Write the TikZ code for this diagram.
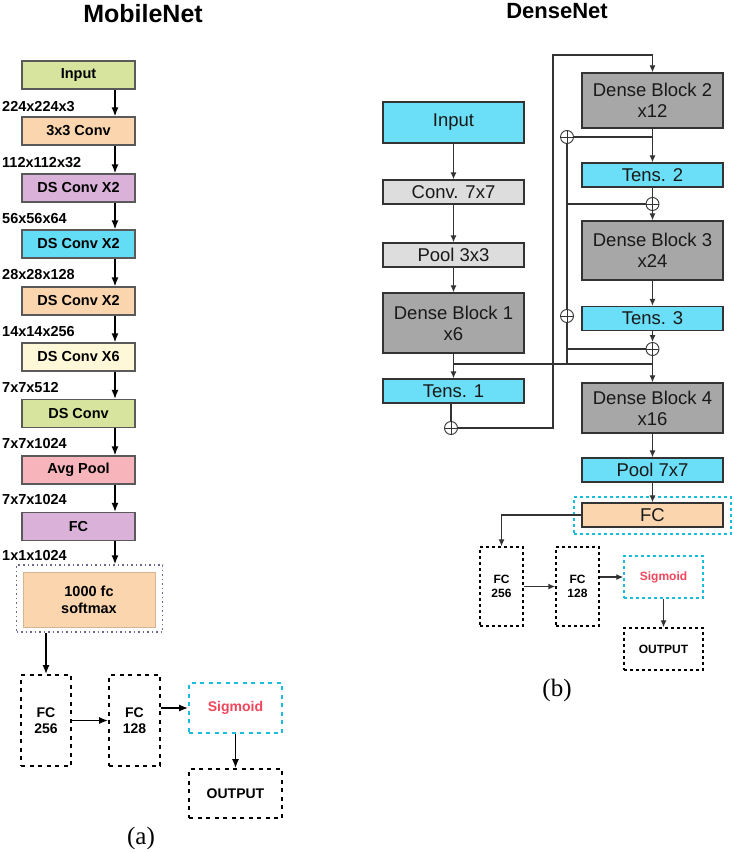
\documentclass[tikz,border=0pt]{standalone}
\usepackage{fontspec}
\setmainfont{Liberation Sans}
\newfontfamily\capfont{Liberation Serif}
\usepackage{xcolor}
\usetikzlibrary{positioning, arrows.meta}
\definecolor{mgreen}{HTML}{D6E49E}
\definecolor{morange}{HTML}{FBD5AE}
\definecolor{mpurple}{HTML}{DAB1D8}
\definecolor{mcyan}{HTML}{63DCF5}
\definecolor{mcream}{HTML}{FFF8D8}
\definecolor{mpink}{HTML}{F7B4BA}
\definecolor{mborder}{HTML}{5A5A5A}
\definecolor{mdots}{HTML}{6A6A8E}
\definecolor{dgray}{HTML}{A7A7A7}
\definecolor{lgray}{HTML}{DDDDDD}
\definecolor{dcyan}{HTML}{6ADFF7}
\definecolor{dline}{HTML}{333333}
\definecolor{sigred}{HTML}{F0455A}
\definecolor{cyanline}{HTML}{19BCDC}

\begin{document}
\begin{tikzpicture}[x=1pt, y=-1pt,
	mbox/.style={rectangle, draw=mborder, line width=1.2pt, minimum width=113pt, minimum height=28pt, inner sep=0pt, align=center, font=\bfseries\fontsize{14.5}{17}\selectfont},
	mdash/.style={rectangle, draw=black, line width=1.8pt, dash pattern=on 4pt off 4.5pt, inner sep=0pt, align=center, font=\bfseries\fontsize{14}{16}\selectfont},
	dimlbl/.style={anchor=west, inner sep=0pt, font=\bfseries\fontsize{14.5}{17}\selectfont},
	marrow/.style={-{Latex[length=9pt, width=7pt]}, line width=1.5pt},
	dbox/.style={rectangle, draw=dline, line width=1.3pt, minimum width=141pt, inner sep=0pt, align=center, text=black!90, font=\fontsize{18.5}{21}\selectfont},
	ddash/.style={rectangle, draw=black, line width=1.4pt, dash pattern=on 3pt off 3pt, inner sep=0pt, align=center, font=\bfseries\fontsize{12}{14}\selectfont},
	darrow/.style={-{Latex[length=7pt, width=6pt]}, line width=1.2pt, draw=dline},
	dline/.style={line width=1.2pt, draw=dline},
	dplus/.style={circle, draw=dline, fill=white, line width=0.9pt, minimum size=13pt, inner sep=0pt,
		path picture={\draw[line width=0.8pt] (path picture bounding box.north) -- (path picture bounding box.south) (path picture bounding box.west) -- (path picture bounding box.east);}},
	]
	\useasboundingbox (0,0) rectangle (733,853);

	%Titles
	\node[font=\bfseries\fontsize{25}{28}\selectfont] (mTitle) at (143,14) {MobileNet};
	\node[font=\bfseries\fontsize{22}{25}\selectfont] (dTitle) at (557,11) {DenseNet};

	%MobileNet nodes
	\node[mbox, fill=mgreen]  (mInput) at (78.5,75)    {Input};
	\node[mbox, fill=morange] (mConv)  at (78.5,131)   {3x3 Conv};
	\node[mbox, fill=mpurple] (mDS1)   at (78.5,188)   {DS Conv X2};
	\node[mbox, fill=mcyan]   (mDS2)   at (78.5,244)   {DS Conv X2};
	\node[mbox, fill=morange] (mDS3)   at (78.5,301)   {DS Conv X2};
	\node[mbox, fill=mcream]  (mDS4)   at (78.5,357)   {DS Conv X6};
	\node[mbox, fill=mgreen]  (mDS5)   at (78.5,413.5) {DS Conv};
	\node[mbox, fill=mpink]   (mPool)  at (78.5,470)   {Avg Pool};
	\node[mbox, fill=mpurple] (mFC)    at (78.5,526.5) {FC};
	\node[rectangle, draw=mdots, line width=1.3pt, dash pattern=on 1.5pt off 3pt, minimum width=146pt, minimum height=67pt] (mOuter) at (89.5,598.5) {};
	\node[mbox, fill=morange, draw=morange!85!black, line width=0.6pt, minimum width=132pt, minimum height=55pt] (mSoft) at (89,599.5) {1000 fc\\softmax};
	\node[mdash, minimum width=50pt, minimum height=91pt] (mFC256) at (46,720.5)    {FC\\256};
	\node[mdash, minimum width=51pt, minimum height=91pt] (mFC128) at (134.5,720.5) {FC\\128};
	\node[mdash, draw=cyanline, text=sigred, minimum width=93pt, minimum height=50pt] (mSig) at (235.5,708) {Sigmoid};
	\node[mdash, minimum width=93pt, minimum height=49pt] (mOut) at (235.5,793.5) {OUTPUT};
	\node[font=\capfont\fontsize{25}{28}\selectfont] (mCap) at (141,838) {(a)};
	\coordinate (mAx) at (115,0);

	\foreach \t/\y [count=\i] in {224x224x3/107, 112x112x32/163, 56x56x64/219, 28x28x128/275, 14x14x256/332, 7x7x512/388, 7x7x1024/444, 7x7x1024/500, 1x1x1024/556}
		\node[dimlbl] (mDim\i) at (2,\y) {\t};

	%MobileNet lines
	\foreach \a/\b in {mInput/mConv, mConv/mDS1, mDS1/mDS2, mDS2/mDS3, mDS3/mDS4, mDS4/mDS5, mDS5/mPool, mPool/mFC, mFC/mOuter}
		\draw[marrow] (mAx |- \a.south) -- (mAx |- \b.north);
	\draw[marrow] (mFC256.north |- mOuter.south) -- (mFC256.north);
	\draw[marrow] (mFC256.east) -- (mFC128.west);
	\draw[marrow] (mFC128.east |- mSig.west) -- (mSig.west);
	\draw[marrow] (mSig.south) -- (mOut.north);

	%DenseNet nodes
	\node[dbox, fill=dcyan, minimum height=41pt] (dInput) at (453.5,122.5) {Input};
	\node[dbox, fill=lgray, minimum height=24pt] (dConv)  at (453.5,192)   {Conv. 7x7};
	\node[dbox, fill=lgray, minimum height=24pt] (dPool)  at (453.5,255)   {Pool 3x3};
	\node[dbox, fill=dgray, minimum height=60pt] (dDB1)   at (453.5,323)   {Dense Block 1\\x6};
	\node[dbox, fill=dcyan, minimum height=24pt] (dTens1) at (453.5,391)   {Tens. 1};
	\node[dbox, fill=dgray, minimum height=55pt] (dDB2)   at (652.5,100.5) {Dense Block 2\\x12};
	\node[dbox, fill=dcyan, minimum height=24pt] (dTens2) at (652.5,175)   {Tens. 2};
	\node[dbox, fill=dgray, minimum height=59pt] (dDB3)   at (652.5,250.5) {Dense Block 3\\x24};
	\node[dbox, fill=dcyan, minimum height=24pt] (dTens3) at (652.5,318.5) {Tens. 3};
	\node[dbox, fill=dgray, minimum height=50pt] (dDB4)   at (652.5,408)   {Dense Block 4\\x16};
	\node[dbox, fill=dcyan, minimum height=24pt] (dPool7) at (652.5,470)   {Pool 7x7};
	\node[rectangle, draw=cyanline, line width=1.8pt, dash pattern=on 3pt off 3pt, minimum width=157pt, minimum height=37pt] (dOuter) at (652.5,515.5) {};
	\node[dbox, fill=morange, minimum height=24pt] (dFC) at (652.5,515) {FC};
	\node[ddash, minimum width=43pt, minimum height=79pt] (dFC256) at (501.5,586.5) {FC\\256};
	\node[ddash, minimum width=43pt, minimum height=79pt] (dFC128) at (577.5,586.5) {FC\\128};
	\node[ddash, draw=cyanline, text=sigred, minimum width=79pt, minimum height=42pt] (dSig) at (663.5,577) {Sigmoid};
	\node[ddash, minimum width=79pt, minimum height=42pt] (dOut) at (663.5,649) {OUTPUT};
	\node[font=\capfont\fontsize{25}{28}\selectfont] (dCap) at (557,690) {(b)};
	\coordinate (dRow) at (0,364);
	\coordinate (dLoop) at (553,55);
	\coordinate (dSide) at (567,0);

	%DenseNet lines
	\node[dplus] (dP1) at (451,428) {};
	\node[dplus] (dP2) at (567,137) {};
	\node[dplus] (dP4) at (652.5,204) {};
	\node[dplus] (dP5) at (652.5,349) {};
	\draw[dline] (dDB1.south |- dRow) -- (dDB4.north |- dRow);
	\draw[dline] (dP2.south) -- (dSide |- dRow);
	\draw[dline] (dLoop |- dP1) -- (dLoop);
	\node[dplus] (dP3) at (567,316) {};
	\foreach \a/\b in {dInput/dConv, dConv/dPool, dPool/dDB1, dDB1/dTens1, dDB2/dTens2, dP4/dDB3, dDB3/dTens3, dTens3/dP5, dP5/dDB4, dDB4/dPool7, dPool7/dFC}
		\draw[darrow] (\a.south) -- (\b.north);
	\draw[dline] (dTens2.south) -- (dP4.north);
	\draw[dline] (dP1.north |- dTens1.south) -- (dP1.north);
	\draw[darrow] (dP1.east) -| (dLoop) -| (dDB2.north);
	\draw[dline] (dDB2.south |- dP2) -- (dP2.east);
	\draw[dline] (dP2 |- dP4) -- (dP4.west);
	\draw[dline] (dP2 |- dP5) -- (dP5.west);
	\draw[darrow] (dFC.west) -| (dFC256.north);
	\draw[darrow] (dFC256.east) -- (dFC128.west);
	\draw[darrow] (dFC128.east |- dSig.west) -- (dSig.west);
	\draw[darrow] (dSig.south) -- (dOut.north);
\end{tikzpicture}
\end{document}
